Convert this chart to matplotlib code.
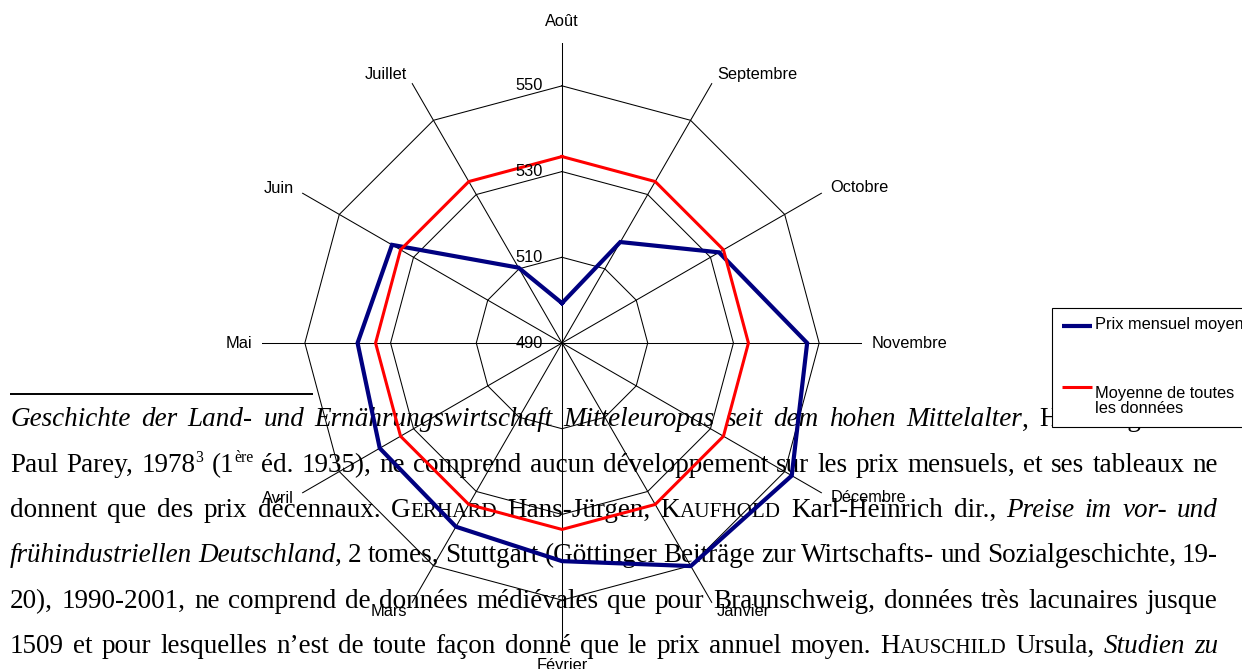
import numpy as np
import matplotlib
matplotlib.use("Agg")
import matplotlib.pyplot as plt
from matplotlib.patches import Rectangle

# data
mois = ['Août', 'Septembre', 'Octobre', 'Novembre', 'Décembre', 'Janvier',
        'Février', 'Mars', 'Avril', 'Mai', 'Juin', 'Juillet']
prixMensuel = [499.3, 517.2, 532.3, 547.2, 551.9, 550.1,
               540.9, 539.5, 539.1, 537.7, 535.8, 510.3]
moyenneToutes = [533.5, 533.5, 533.5, 533.5, 533.5, 533.5,
                 533.5, 533.5, 533.5, 533.5, 533.5, 533.5]
rayonTicks = [490, 510, 530, 550]
rayonMax = 560
legendeLabels = ['Prix mensuel moyen', 'Moyenne de toutes\nles données']

# footnote text of the page behind the chart: (text, style) segments
# styles: n normal, i italic, sc small caps, sup superscript
lignes = [
    [("Geschichte der Land- und Ernährungswirtschaft Mitteleuropas seit dem hohen Mittelalter", 'i'),
     (", Hamburg-Berlin", 'n')],
    [("Paul Parey, 1978", 'n'), ("3", 'sup'), (" (1", 'n'), ("ère", 'sup'),
     (" éd. 1935), ne comprend aucun développement sur les prix mensuels, et ses tableaux ne", 'n')],
    [("donnent que des prix décennaux. G", 'n'), ("ERHARD", 'sc'), (" Hans-Jürgen, K", 'n'),
     ("AUFHOLD", 'sc'), (" Karl-Heinrich dir., ", 'n'), ("Preise im vor- und", 'i')],
    [("frühindustriellen Deutschland", 'i'),
     (", 2 tomes, Stuttgart (Göttinger Beiträge zur Wirtschafts- und Sozialgeschichte, 19-", 'n')],
    [("20), 1990-2001, ne comprend de données médiévales que pour Braunschweig, données très lacunaires jusque", 'n')],
    [("1509 et pour lesquelles n’est de toute façon donné que le prix annuel moyen. H", 'n'),
     ("AUSCHILD", 'sc'), (" Ursula, ", 'n'), ("Studien zu", 'i')],
]

W, H = 1242, 669
fig = plt.figure(figsize=(W / 100, H / 100), dpi=100)
fig.patch.set_facecolor('white')

# page layer in pixel coordinates
page = fig.add_axes([0, 0, 1, 1], zorder=0)
page.set_xlim(0, W)
page.set_ylim(H, 0)
page.axis('off')

serif = 'Liberation Serif'
sans = 'Liberation Sans'
tailleTexte = 19.5
pxParPt = 100 / 72

page.plot([10, 313], [394, 394], color='black', lw=1.4, solid_capstyle='butt')

renderer = fig.canvas.get_renderer()


def decouperMots(segments):
    mots = [[]]
    for txt, st in segments:
        parts = txt.split(' ')
        for k, p in enumerate(parts):
            if k > 0:
                mots.append([])
            if p:
                mots[-1].append((p, st))
    return [m for m in mots if m]


def creerMorceau(txt, st):
    taille = tailleTexte
    style = 'normal'
    if st == 'i':
        style = 'italic'
    elif st == 'sc':
        taille = tailleTexte * 0.78
    elif st == 'sup':
        taille = tailleTexte * 0.58
    return page.text(0, 0, txt, fontsize=taille, family=serif, style=style,
                     va='baseline', ha='left', color='black', zorder=2)


gauche, droite = 10, 1218
baseline0, interligne = 426.5, 45.3
for i, segs in enumerate(lignes):
    yb = baseline0 + i * interligne
    mots = decouperMots(segs)
    objets, largeurs = [], []
    for mot in mots:
        morceaux = []
        total = 0
        for txt, st in mot:
            t = creerMorceau(txt, st)
            w = t.get_window_extent(renderer).width
            morceaux.append((t, w, st))
            total += w
        objets.append(morceaux)
        largeurs.append(total)
    ecart = (droite - gauche - sum(largeurs)) / (len(mots) - 1)
    x = gauche
    for morceaux, lw in zip(objets, largeurs):
        for t, w, st in morceaux:
            dy = -tailleTexte * pxParPt * 0.36 if st == 'sup' else 0
            t.set_position((x, yb + dy))
            x += w
        x += ecart

# radar chart
cx, cy, R = 562, 343, 300
ax = fig.add_axes([(cx - R) / W, (H - cy - R) / H, 2 * R / W, 2 * R / H],
                  projection='polar', zorder=1)
ax.patch.set_alpha(0)
ax.set_theta_zero_location('N')
ax.set_theta_direction(-1)
ax.set_ylim(rayonTicks[0], rayonMax)
ax.grid(False)
ax.spines['polar'].set_visible(False)
ax.set_xticks([])
ax.set_yticks([])

angles = np.linspace(0, 2 * np.pi, len(mois), endpoint=False)
fermer = lambda v: list(v) + [v[0]]
anglesFermes = fermer(angles)

for a in angles:
    ax.plot([a, a], [rayonTicks[0], rayonMax], color='black', lw=0.75)
for v in rayonTicks[1:]:
    ax.plot(anglesFermes, [v] * (len(mois) + 1), color='black', lw=0.75)

couleurs = ['#000080', '#ff0000']
epaisseurs = [3.0, 2.2]
for serie, col, lw in zip([prixMensuel, moyenneToutes], couleurs, epaisseurs):
    ax.plot(anglesFermes, fermer(serie), color=col, lw=lw, solid_joinstyle='miter')

for a, nom in zip(angles, mois):
    s, c = np.sin(a), np.cos(a)
    if abs(s) < 0.1:
        ha = 'center'
        off = (0, 22 * np.sign(c))
    else:
        ha = 'left' if s > 0 else 'right'
        off = (10 * s, 10 * c)
    ax.annotate(nom, xy=(a, rayonMax), xytext=(off[0] / pxParPt, off[1] / pxParPt),
                textcoords='offset points', ha=ha, va='center', fontsize=11.8,
                family=sans, color='black', annotation_clip=False)

for v in rayonTicks:
    ax.annotate(str(v), xy=(0, v), xytext=(-14, 0), textcoords='offset points',
                ha='right', va='center', fontsize=11.8, family=sans, color='black',
                annotation_clip=False)

# legend box, runs past the right edge as in the page
page.add_patch(Rectangle((1052, 308), 220, 119, facecolor='white', edgecolor='black',
                         lw=0.8, zorder=5))
for k, (lab, col, lw) in enumerate(zip(legendeLabels, couleurs, epaisseurs)):
    yl = [326, 387][k]
    page.plot([1062, 1092], [yl, yl], color=col, lw=lw, solid_capstyle='butt', zorder=6)
    page.text(1095, yl - 9 + k * 8, lab, fontsize=11.8, family=sans, color='black',
              ha='left', va='top', linespacing=1.0, zorder=6)

fig.savefig('out.png', dpi=100)
